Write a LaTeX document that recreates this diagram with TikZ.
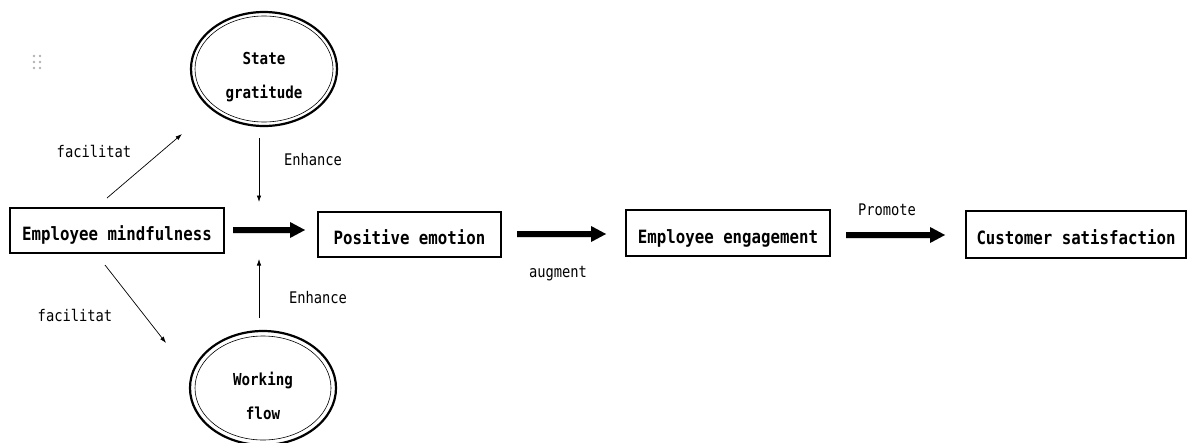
\documentclass[tikz,border=0pt]{standalone}
\usepackage{fontspec}
\newfontfamily\narrowmono[FakeStretch=0.86]{DejaVu Sans Mono}
\usetikzlibrary{arrows.meta,calc,shapes.geometric}

\tikzset{
  box/.style={draw, line width=1.6pt, inner sep=0pt, text height=20pt, text depth=0pt,
    font=\narrowmono\bfseries\fontsize{18.3}{20}\selectfont},
  oval/.style={ellipse, draw, line width=2.2pt, inner sep=0pt,
    minimum width=146pt, minimum height=114pt},
  ovalinner/.style={line width=0.6pt},
  ovaltext/.style={font=\narrowmono\bfseries\fontsize{16.5}{34}\selectfont, align=center},
  lbl/.style={font=\narrowmono\fontsize{16}{18}\selectfont, anchor=base},
  link/.style={line width=0.7pt, -{Latex[length=6.5pt,width=4.5pt]}},
  dot/.style={fill=gray!60, draw=none},
}

% block arrow from #1 to tip #2, with a grey offset copy underneath
\newcommand\fatarrow[2]{%
  \fill[gray!35, shift={(4,3)}]
    ($(#1)+(0,-3)$) -- ($(#2)+(-15,-3)$) -- ($(#2)+(-15,-8)$) -- (#2)
    -- ($(#2)+(-15,8)$) -- ($(#2)+(-15,3)$) -- ($(#1)+(0,3)$) -- cycle;
  \fill[black]
    ($(#1)+(0,-3)$) -- ($(#2)+(-15,-3)$) -- ($(#2)+(-15,-8)$) -- (#2)
    -- ($(#2)+(-15,8)$) -- ($(#2)+(-15,3)$) -- ($(#1)+(0,3)$) -- cycle;
}

\begin{document}
\begin{tikzpicture}[x=1pt, y=-1pt]
\useasboundingbox (0,0) rectangle (1188,442);

% handle dots
\foreach \dx in {34,40} \foreach \dy in {56,62,68}
  \fill[dot] (\dx,\dy) circle (1.3);

% boxes
\node[box, minimum width=214pt, minimum height=45pt] (em) at (117,230.5) {Employee mindfulness};
\node[box, minimum width=183pt, minimum height=45pt] (pe) at (409.5,234.5) {Positive emotion};
\node[box, minimum width=204pt, minimum height=46pt] (ee) at (728,233) {Employee engagement};
\node[box, minimum width=220pt, minimum height=47pt] (cs) at (1076,234.5) {Customer satisfaction};

% ellipses
\node[oval] (sg) at (264,69) {};
\draw[ovalinner] (sg.center) ellipse [x radius=69, y radius=53];
\node[ovaltext] (sgt) at (264,77) {State\\gratitude};

\node[oval] (wf) at (263,388) {};
\draw[ovalinner] (wf.center) ellipse [x radius=68, y radius=52];
\node[ovaltext] (wft) at (263,396) {Working\\flow};

% thin arrows
\coordinate (f1s) at (107,198);
\coordinate (f1e) at (182,134);
\coordinate (f2s) at (105,265);
\coordinate (f2e) at (166,343);
\coordinate (h1s) at (259,138);
\coordinate (h1e) at (259,202);
\coordinate (h2s) at (259,318);
\coordinate (h2e) at (259,259);
\draw[link] (f1s) -- (f1e);
\draw[link] (f2s) -- (f2e);
\draw[link] (h1s) -- (h1e);
\draw[link] (h2s) -- (h2e);

% block arrows
\coordinate (a1s) at (233,230);
\coordinate (a1e) at (305,230);
\coordinate (a2s) at (517,234);
\coordinate (a2e) at (606,234);
\coordinate (a3s) at (846,235);
\coordinate (a3e) at (945,235);
\fatarrow{a1s}{a1e}
\fatarrow{a2s}{a2e}
\fatarrow{a3s}{a3e}

% labels
\node[lbl] (l1) at (94,157) {facilitat};
\node[lbl] (l2) at (75,321) {facilitat};
\node[lbl] (l3) at (313,165) {Enhance};
\node[lbl] (l4) at (318,303) {Enhance};
\node[lbl] (l5) at (558,277) {augment};
\node[lbl] (l6) at (887,215) {Promote};
\end{tikzpicture}
\end{document}
